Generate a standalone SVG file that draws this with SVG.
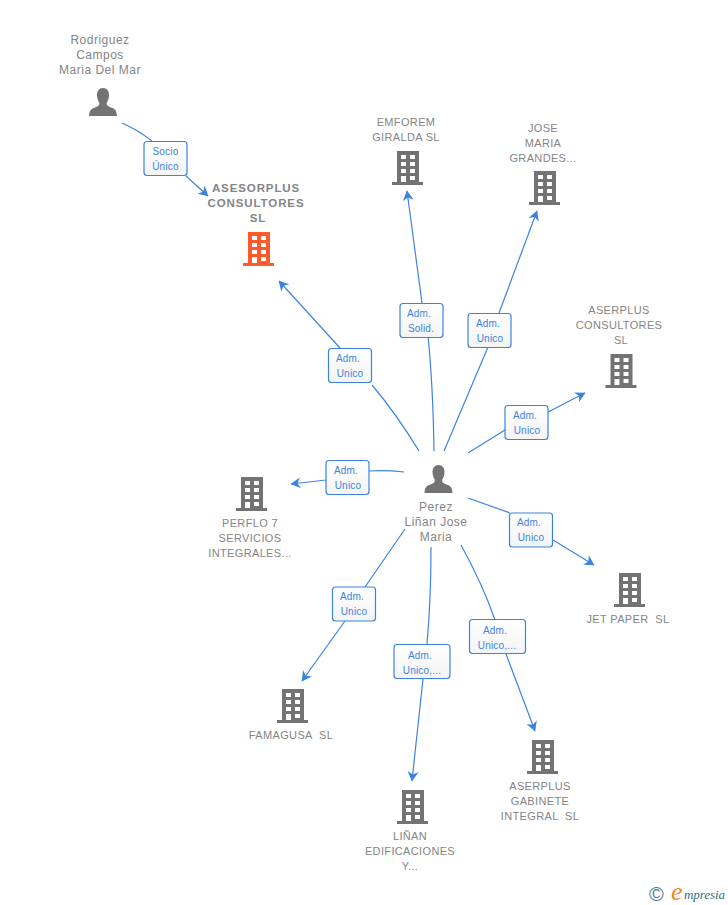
<svg xmlns="http://www.w3.org/2000/svg" width="728" height="905" viewBox="0 0 728 905">
<style>
text{font-family:"Liberation Sans",Arial,sans-serif}
.n{font-size:11px;fill:#858585;text-anchor:middle;letter-spacing:.35px}
.p{font-size:12px;fill:#858585;text-anchor:middle;letter-spacing:.5px}
.m{font-size:11.5px;font-weight:bold;fill:#858585;text-anchor:middle;letter-spacing:.9px}
.l{font-size:10px;fill:#3c83e0;text-anchor:middle;letter-spacing:.2px}
.e{fill:none;stroke:#3c83e0;stroke-width:1.2}
.b{fill:url(#g);stroke:#3c83e0;stroke-width:1.2}
</style>
<defs>
<marker id="a" markerUnits="userSpaceOnUse" markerWidth="12" markerHeight="12" refX="9.500" refY="6" orient="auto" viewBox="0 0 12 12"><path d="M0 0.500L10 6L0 11.500L3 6Z" fill="#3c83e0"/></marker>
<linearGradient id="g" x1="0" y1="0" x2="0" y2="1"><stop offset="0" stop-color="#fff"/><stop offset="1" stop-color="#f4f4f4"/></linearGradient>
<path id="bld" fill-rule="evenodd" d="M4-34H26V-3H30V0H-1V-3H4ZM8-30V-26H13V-30ZM17-30V-26H22V-30ZM8-23V-19H13V-23ZM17-23V-19H22V-23ZM8-16V-12H13V-16ZM17-16V-12H22V-16ZM8-9V-3H13V-9ZM17-9V-5H22V-9Z"/>
<path id="per" d="M14 0C10 0 8 3 8 7C8 11 9.500 13.500 10.500 15C10.500 17 9.500 18 6 19.500C2 21 0.500 22 0 28H28C27.500 22 26 21 22 19.500C18.500 18 17.500 17 17.500 15C18.500 13.500 20 11 20 7C20 3 18 0 14 0Z" fill="#737373"/>
</defs>
<g id="connectors">
<path class="e" d="M122 123Q138 130 152 141"/><path class="e" d="M186 176L208 196" marker-end="url(#a)"/>
<path class="e" d="M419 451Q395 412 372 385"/><path class="e" d="M340 348L279 281" marker-end="url(#a)"/>
<path class="e" d="M434 451Q433 385 428 336"/><path class="e" d="M422 303L407 191" marker-end="url(#a)"/>
<path class="e" d="M444 451L488 347"/><path class="e" d="M499 313L537 211" marker-end="url(#a)"/>
<path class="e" d="M468 453L505 430"/><path class="e" d="M548 412L585 393" marker-end="url(#a)"/>
<path class="e" d="M404 472Q386 470 369 471"/><path class="e" d="M326 480L291 484" marker-end="url(#a)"/>
<path class="e" d="M468 498L510 513"/><path class="e" d="M553 540L594 565" marker-end="url(#a)"/>
<path class="e" d="M405 529L365 587"/><path class="e" d="M345 621L302 681" marker-end="url(#a)"/>
<path class="e" d="M431 547Q431 600 427 644"/><path class="e" d="M423 679L412 781" marker-end="url(#a)"/>
<path class="e" d="M461 545Q483 585 495 620"/><path class="e" d="M506 654L535 731" marker-end="url(#a)"/>
</g>
<g id="edge-labels">
<rect class="b" x="144" y="141.500" width="43" height="34" rx="3"/><text class="l" x="165.500" y="155">Socio</text><text class="l" x="165.500" y="170">Único</text>
<rect class="b" x="328.500" y="348.500" width="43" height="34" rx="3"/><text class="l" x="348" y="362">Adm.</text><text class="l" x="350" y="377">Unico</text>
<rect class="b" x="400" y="303.500" width="43" height="34" rx="3"/><text class="l" x="419" y="317">Adm.</text><text class="l" x="421" y="332">Solid.</text>
<rect class="b" x="468" y="313.500" width="43" height="34" rx="3"/><text class="l" x="488" y="327">Adm.</text><text class="l" x="490" y="342">Unico</text>
<rect class="b" x="505" y="405.500" width="43" height="34" rx="3"/><text class="l" x="525" y="419">Adm.</text><text class="l" x="527" y="434">Unico</text>
<rect class="b" x="326" y="460.500" width="43" height="34" rx="3"/><text class="l" x="346" y="474">Adm.</text><text class="l" x="348" y="489">Unico</text>
<rect class="b" x="509.500" y="513" width="43" height="34" rx="3"/><text class="l" x="529" y="526">Adm.</text><text class="l" x="531" y="541">Unico</text>
<rect class="b" x="332.500" y="587" width="43" height="34" rx="3"/><text class="l" x="352" y="600">Adm.</text><text class="l" x="354" y="615">Unico</text>
<rect class="b" x="394" y="644.500" width="56" height="34" rx="3"/><text class="l" x="420" y="659">Adm.</text><text class="l" x="422" y="674">Unico,...</text>
<rect class="b" x="469.500" y="619.500" width="56" height="34" rx="3"/><text class="l" x="495" y="634">Adm.</text><text class="l" x="497" y="649">Unico,...</text>
</g>
<g id="node-rodriguez"><use href="#per" x="89" y="88"/><text class="p" x="100" y="44">Rodriguez</text><text class="p" x="100" y="59">Campos</text><text class="p" x="100" y="74">Maria Del Mar</text></g>
<g id="node-asesorplus"><use href="#bld" x="244" y="266" fill="#ff5a2b"/><text class="m" x="256" y="192">ASESORPLUS</text><text class="m" x="256" y="207">CONSULTORES</text><text class="m" x="258" y="222">SL</text></g>
<g id="node-emforem"><use href="#bld" x="393" y="185" fill="#737373"/><text class="n" x="406" y="126">EMFOREM</text><text class="n" x="406" y="141">GIRALDA SL</text></g>
<g id="node-jose"><use href="#bld" x="530" y="205" fill="#737373"/><text class="n" x="543" y="132">JOSE</text><text class="n" x="543" y="147">MARIA</text><text class="n" x="543" y="162">GRANDES...</text></g>
<g id="node-aserplus-cons"><use href="#bld" x="606.500" y="388" fill="#737373"/><text class="n" x="619" y="314">ASERPLUS</text><text class="n" x="619" y="329">CONSULTORES</text><text class="n" x="621" y="344">SL</text></g>
<g id="node-perez"><use href="#per" x="424.500" y="465"/><text class="p" x="436" y="511">Perez</text><text class="p" x="436" y="526">Liñan Jose</text><text class="p" x="436" y="541">Maria</text></g>
<g id="node-perflo"><use href="#bld" x="237" y="511" fill="#737373"/><text class="n" x="250" y="527">PERFLO 7</text><text class="n" x="250" y="542">SERVICIOS</text><text class="n" x="250" y="557">INTEGRALES...</text></g>
<g id="node-jetpaper"><use href="#bld" x="615" y="607" fill="#737373"/><text class="n" x="628" y="623" xml:space="preserve">JET PAPER  SL</text></g>
<g id="node-famagusa"><use href="#bld" x="278" y="723" fill="#737373"/><text class="n" x="291" y="739" xml:space="preserve">FAMAGUSA  SL</text></g>
<g id="node-linan"><use href="#bld" x="398" y="824" fill="#737373"/><text class="n" x="410" y="840">LIÑAN</text><text class="n" x="410" y="855">EDIFICACIONES</text><text class="n" x="410" y="870">Y...</text></g>
<g id="node-gabinete"><use href="#bld" x="528" y="774" fill="#737373"/><text class="n" x="540" y="790">ASERPLUS</text><text class="n" x="540" y="805">GABINETE</text><text class="n" x="540" y="820" xml:space="preserve">INTEGRAL  SL</text></g>
<g id="logo"><text x="649" y="901" font-size="20" fill="#4a7c94">©</text><text x="671" y="900" font-size="26" font-style="italic" fill="#f08a1d" style="font-family:'Liberation Serif',serif">e</text><text x="684" y="899" font-size="13" font-style="italic" fill="#2f6f86" style="font-family:'Liberation Serif',serif" textLength="41" lengthAdjust="spacing">mpresia</text></g>
</svg>
